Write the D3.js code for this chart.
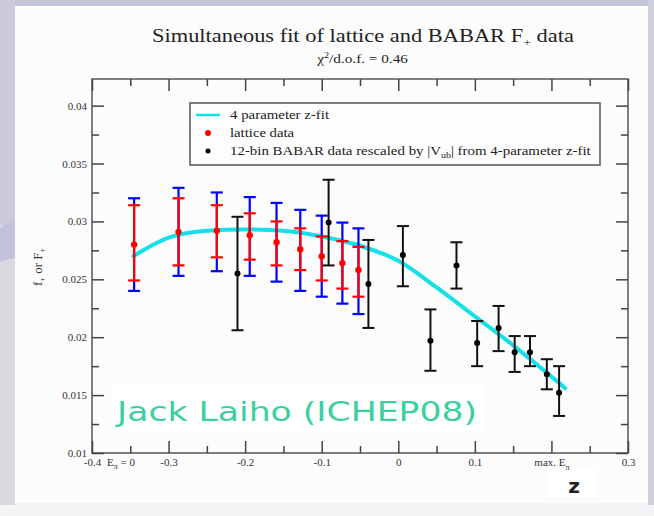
<!DOCTYPE html>
<html><head><meta charset="utf-8">
<script src="https://cdn.jsdelivr.net/npm/d3@7"></script>
<style>html,body{margin:0;padding:0;background:#fff;}svg{display:block;}</style>
</head><body><svg id="c" width="654" height="516"></svg>
<script>
// ---- data ----
const xTicks = [-0.4, -0.3, -0.2, -0.1, 0, 0.1, 0.2, 0.3];
const xTickLabels = ["-0.4", "-0.3", "-0.2", "-0.1", "0", "0.1", "max. E", "0.3"];
const yTicks = [0.01, 0.015, 0.02, 0.025, 0.03, 0.035, 0.04];
const yTickLabels = ["0.01", "0.015", "0.02", "0.025", "0.03", "0.035", "0.04"];

const fitZ =   [-0.346, -0.30, -0.25, -0.20, -0.15, -0.10, -0.05, 0.00, 0.05, 0.10, 0.15, 0.218];
const fitVal = [0.0270, 0.0286, 0.0292, 0.0293, 0.0292, 0.0287, 0.0279, 0.0266, 0.0243, 0.0218, 0.0193, 0.0156];

const latZ =      [-0.345, -0.287, -0.237, -0.194, -0.159, -0.128, -0.100, -0.073, -0.052];
const latVal =    [0.0280, 0.0291, 0.0292, 0.0288, 0.0282, 0.0276, 0.0270, 0.0264, 0.0258];
const latStatHi = [0.0314, 0.0320, 0.0314, 0.0307, 0.0300, 0.0294, 0.0287, 0.0283, 0.0278];
const latStatLo = [0.0249, 0.0262, 0.0269, 0.0267, 0.0262, 0.0258, 0.0249, 0.0242, 0.0235];
const latTotHi =  [0.0320, 0.0329, 0.0325, 0.0321, 0.0316, 0.0310, 0.0305, 0.0299, 0.0294];
const latTotLo =  [0.0240, 0.0253, 0.0257, 0.0253, 0.0248, 0.0240, 0.0235, 0.0229, 0.0220];

const babZ =   [-0.210, -0.091, -0.039, 0.006, 0.042, 0.076, 0.103, 0.131, 0.152, 0.172, 0.194, 0.210];
const babVal = [0.0255, 0.0299, 0.0246, 0.0271, 0.0197, 0.0262, 0.0195, 0.0208, 0.0187, 0.0187, 0.0168, 0.0152];
const babHi =  [0.0304, 0.0336, 0.0284, 0.0296, 0.0224, 0.0282, 0.0214, 0.0227, 0.0201, 0.0201, 0.0181, 0.0175];
const babLo =  [0.0206, 0.0262, 0.0208, 0.0244, 0.0171, 0.0242, 0.0175, 0.0188, 0.0170, 0.0175, 0.0155, 0.0132];

const legendLabels = ["4 parameter z-fit", "lattice data", "12-bin BABAR data rescaled by |V", "| from 4-parameter z-fit"];

// ---- drawing ----
const svg = d3.select("#c");
const W = 654, H = 516;
const L = 92, R = 628, T = 79, B = 453;

// stretch a text element horizontally so it spans the given width starting from x0 (anchor start)
function fitWidth(sel, x0, width) {
  const bb = sel.node().getBBox();
  const k = width / bb.width;
  sel.attr("transform", `translate(${x0},0) scale(${k},1) translate(${-bb.x},0)`);
}

// slide background
svg.append("rect").attr("width", W).attr("height", H).attr("fill", "#f4f4f6");
svg.append("rect").attr("x", 0).attr("y", 0).attr("width", 15).attr("height", 505).attr("fill", "#d9d9df");
svg.append("rect").attr("x", 0).attr("y", 0).attr("width", W).attr("height", 6).attr("fill", "#c6c6da");
svg.append("rect").attr("x", 0).attr("y", 0).attr("width", 15).attr("height", 225).attr("fill", "#cbcbdc");
svg.append("path").attr("d", "M0,228 Q8,222 15,220 L15,258 Q8,259 0,262 Z").attr("fill", "#c2c2dc");
svg.append("rect").attr("x", 648).attr("y", 0).attr("width", 6).attr("height", 505).attr("fill", "#cfcfdd");
svg.append("rect").attr("x", 15).attr("y", 6).attr("width", 633).attr("height", 497).attr("fill", "#fcfcfc");

const x = d3.scaleLinear().domain([-0.4, 0.3]).range([L, R]);
const y = d3.scaleLinear().domain([0.01, 0.0423]).range([B, T]);

const serif = "'Liberation Serif', 'DejaVu Serif', serif";

// title
const title = svg.append("text").attr("x", 0).attr("y", 42)
  .attr("font-family", serif).attr("font-size", 18).attr("fill", "#222");
title.append("tspan").text("Simultaneous fit of lattice and BABAR F");
title.append("tspan").attr("font-size", 11).attr("dy", 4).text("+");
title.append("tspan").attr("dy", -4).text(" data");
fitWidth(title, 152, 422);

const sub = svg.append("text").attr("x", 0).attr("y", 63)
  .attr("font-family", serif).attr("font-size", 12).attr("fill", "#222");
sub.append("tspan").text("χ");
sub.append("tspan").attr("font-size", 8).attr("dy", -5).text("2");
sub.append("tspan").attr("dy", 5).text("/d.o.f. = 0.46");
fitWidth(sub, 316, 92);

// frame
svg.append("rect").attr("x", L).attr("y", T).attr("width", R - L).attr("height", B - T)
  .attr("fill", "none").attr("stroke", "#555").attr("stroke-width", 1.5);

const yMinor = d3.range(0.0125, 0.0423, 0.005);
const xMinor = d3.range(-0.35, 0.3, 0.1);

function styleAxis(g) {
  g.select(".domain").remove();
  g.selectAll(".tick line").attr("stroke", "#444").attr("stroke-width", 1.5);
  g.selectAll(".tick text").attr("font-family", serif).attr("font-size", 11).attr("fill", "#333");
}
// left / right y axes
svg.append("g").attr("transform", `translate(${L},0)`)
  .call(d3.axisLeft(y).tickValues(yTicks).tickSize(-12).tickPadding(5).tickFormat((d, i) => yTickLabels[i]))
  .call(styleAxis);
svg.append("g").attr("transform", `translate(${L},0)`)
  .call(d3.axisLeft(y).tickValues(yMinor).tickSize(-7).tickFormat(""))
  .call(styleAxis);
svg.append("g").attr("transform", `translate(${R},0)`)
  .call(d3.axisRight(y).tickValues(yTicks).tickSize(-12).tickFormat(""))
  .call(styleAxis);
svg.append("g").attr("transform", `translate(${R},0)`)
  .call(d3.axisRight(y).tickValues(yMinor).tickSize(-7).tickFormat(""))
  .call(styleAxis);
// bottom / top x axes
const xb = svg.append("g").attr("transform", `translate(0,${B})`)
  .call(d3.axisBottom(x).tickValues(xTicks).tickSize(-12).tickPadding(5).tickFormat((d, i) => xTickLabels[i]))
  .call(styleAxis);
svg.append("g").attr("transform", `translate(0,${B})`)
  .call(d3.axisBottom(x).tickValues(xMinor).tickSize(-7).tickFormat(""))
  .call(styleAxis);
svg.append("g").attr("transform", `translate(0,${T})`)
  .call(d3.axisTop(x).tickValues(xTicks).tickSize(-12).tickFormat(""))
  .call(styleAxis);
svg.append("g").attr("transform", `translate(0,${T})`)
  .call(d3.axisTop(x).tickValues(xMinor).tickSize(-7).tickFormat(""))
  .call(styleAxis);
// subscript pi on "max. E" label
xb.selectAll(".tick text").filter((d) => d === 0.2)
  .append("tspan").attr("font-size", 8).attr("dy", 4).text("π");
// E_pi = 0 annotation
const e0 = svg.append("text").attr("x", 107).attr("y", 466)
  .attr("font-family", serif).attr("font-size", 11).attr("fill", "#333");
e0.append("tspan").text("E");
e0.append("tspan").attr("font-size", 8).attr("dy", 3).text("π");
e0.append("tspan").attr("dy", -3).text(" = 0");

// y label
const yl = svg.append("text").attr("transform", "translate(42,267) rotate(-90)").attr("text-anchor", "middle")
  .attr("font-family", serif).attr("font-size", 13).attr("fill", "#333");
yl.append("tspan").text("f");
yl.append("tspan").attr("font-size", 8).attr("dy", 3).text("+");
yl.append("tspan").attr("dy", -3).text(" or F");
yl.append("tspan").attr("font-size", 8).attr("dy", 3).text("+");

// Jack Laiho annotation
svg.append("rect").attr("x", 112).attr("y", 383).attr("width", 372).attr("height", 50).attr("fill", "#ffffff");
svg.append("text").attr("x", 117).attr("y", 421).attr("font-family", "'DejaVu Sans', sans-serif")
  .attr("font-size", 27).attr("fill", "#3ccf9f").attr("textLength", 360).attr("lengthAdjust", "spacingAndGlyphs")
  .text("Jack Laiho (ICHEP08)");

// z label
svg.append("rect").attr("x", 548).attr("y", 470).attr("width", 50).attr("height", 28).attr("fill", "#ffffff");
svg.append("text").attr("x", 574).attr("y", 493).attr("text-anchor", "middle")
  .attr("font-family", "'DejaVu Sans', sans-serif").attr("font-weight", "bold").attr("font-size", 20).attr("fill", "#222").text("z");

// fit curve
const fitData = fitZ.map((z, i) => [z, fitVal[i]]);
svg.append("path").datum(fitData)
  .attr("d", d3.line().x(d => x(d[0])).y(d => y(d[1])).curve(d3.curveMonotoneX))
  .attr("fill", "none").attr("stroke", "#14e0ea").attr("stroke-width", 4).attr("stroke-linecap", "round");

function errBars(g, zs, lo, hi, color, w, cap) {
  zs.forEach((z, i) => {
    const cx = x(z);
    g.append("line").attr("x1", cx).attr("x2", cx).attr("y1", y(lo[i])).attr("y2", y(hi[i]))
      .attr("stroke", color).attr("stroke-width", w);
    [lo[i], hi[i]].forEach(v => {
      g.append("line").attr("x1", cx - cap).attr("x2", cx + cap).attr("y1", y(v)).attr("y2", y(v))
        .attr("stroke", color).attr("stroke-width", w);
    });
  });
}
const eg = svg.append("g");
errBars(eg, latZ, latTotLo, latTotHi, "#0000ff", 2.2, 6);
errBars(eg, latZ, latStatLo, latStatHi, "#ff0000", 2.2, 6);
errBars(eg, babZ, babLo, babHi, "#111111", 2, 6);

svg.append("g").selectAll("circle").data(latZ).join("circle")
  .attr("cx", d => x(d)).attr("cy", (d, i) => y(latVal[i])).attr("r", 3.2).attr("fill", "#ff0000");
svg.append("g").selectAll("circle").data(babZ).join("circle")
  .attr("cx", d => x(d)).attr("cy", (d, i) => y(babVal[i])).attr("r", 3).attr("fill", "#000");

// legend
svg.append("rect").attr("x", 190).attr("y", 103).attr("width", 410).attr("height", 62)
  .attr("fill", "#fdfdfd").attr("stroke", "#555").attr("stroke-width", 1.5);
svg.append("line").attr("x1", 196).attr("x2", 220).attr("y1", 115).attr("y2", 115)
  .attr("stroke", "#14e0ea").attr("stroke-width", 2.5);
svg.append("circle").attr("cx", 208).attr("cy", 133).attr("r", 3).attr("fill", "#ff0000");
svg.append("circle").attr("cx", 208).attr("cy", 151).attr("r", 2.5).attr("fill", "#000");
const lt = svg.append("g").attr("font-family", serif).attr("font-size", 12).attr("fill", "#222");
const l1 = lt.append("text").attr("x", 0).attr("y", 119).text(legendLabels[0]);
fitWidth(l1, 230, 100);
const l2 = lt.append("text").attr("x", 0).attr("y", 137).text(legendLabels[1]);
fitWidth(l2, 230, 65);
const l3 = lt.append("text").attr("x", 0).attr("y", 155);
l3.append("tspan").text(legendLabels[2]);
l3.append("tspan").attr("font-size", 8).attr("dy", 3).text("ub");
l3.append("tspan").attr("dy", -3).text(legendLabels[3]);
fitWidth(l3, 230, 362);
</script></body></html>
